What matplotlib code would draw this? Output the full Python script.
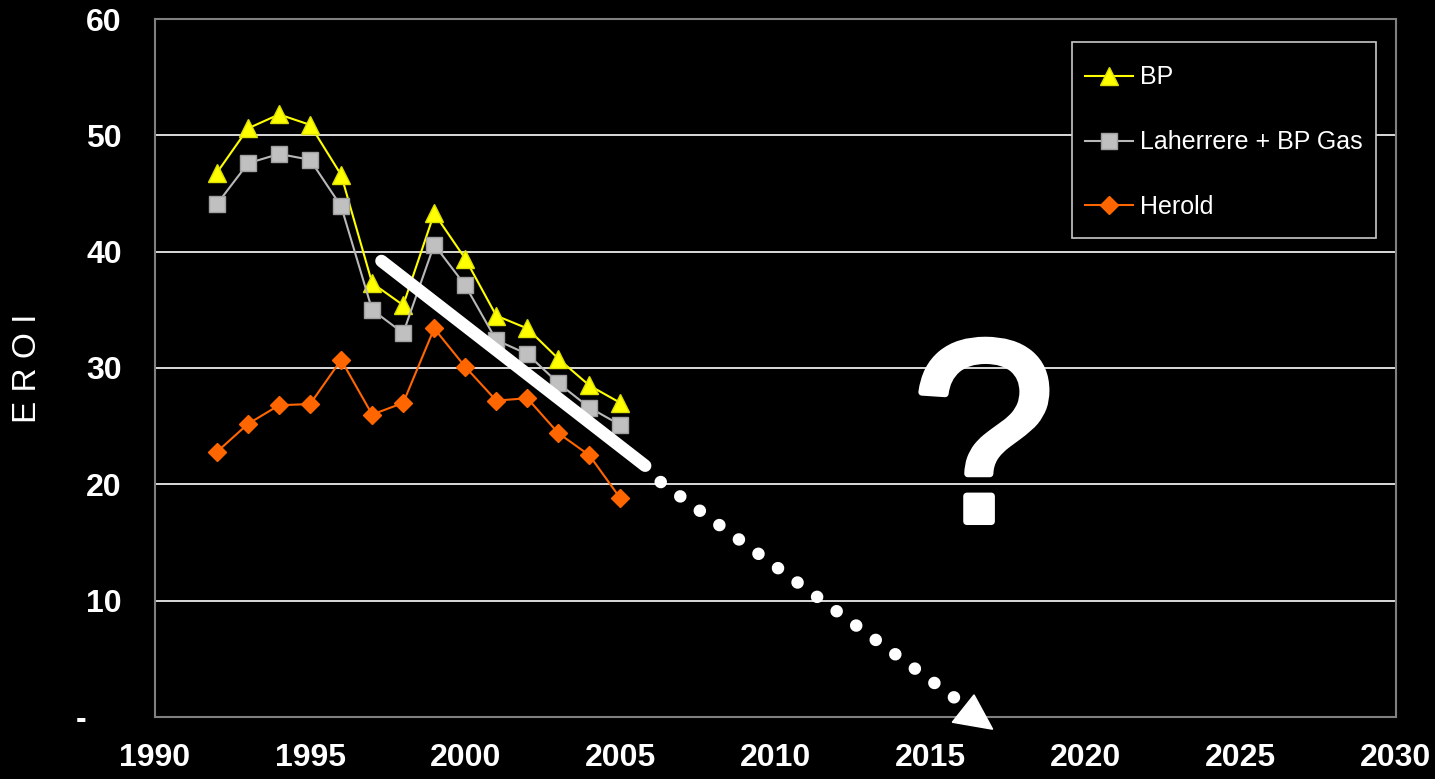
import matplotlib
matplotlib.use("Agg")
import matplotlib.pyplot as plt
from matplotlib.patches import Polygon, Rectangle
import matplotlib.patheffects as pe

plt.rcParams['font.family'] = ['Liberation Sans', 'DejaVu Sans']

# EROI series, one value per year
years = [1992, 1993, 1994, 1995, 1996, 1997, 1998, 1999, 2000, 2001, 2002, 2003, 2004, 2005]
bp = [46.8, 50.6, 51.8, 50.9, 46.6, 37.3, 35.4, 43.3, 39.4, 34.5, 33.4, 30.8, 28.5, 27.0]
laherrere = [44.1, 47.6, 48.4, 47.9, 43.9, 35.0, 33.0, 40.6, 37.1, 32.4, 31.2, 28.7, 26.6, 25.1]
herold = [22.8, 25.2, 26.8, 26.9, 30.7, 26.0, 27.0, 33.4, 30.1, 27.2, 27.4, 24.4, 22.5, 18.8]

# trend line and its dotted extrapolation
trend_x = [1997.3, 2005.8]
trend_y = [39.2, 21.6]
extrap_x = [2006.3, 2015.85]
extrap_y = [20.2, 1.5]
head = [(2015.7, -0.45), (2016.4, 1.9), (2017.0, -1.05)]

x_ticks = [1990, 1995, 2000, 2005, 2010, 2015, 2020, 2025, 2030]
y_ticks = [0, 10, 20, 30, 40, 50, 60]
y_labels = ['-    ', '10', '20', '30', '40', '50', '60']

W, H = 1435, 779
fig = plt.figure(figsize=(W / 100, H / 100), dpi=100, facecolor='black')
ax = fig.add_axes([0.108, 0.0796, 0.8648, 0.896])
ax.set_facecolor('black')

ax.grid(axis='y', color='white', lw=1.2)
ax.set_axisbelow(True)

ax.plot(years, bp, color='#ffff00', lw=1.5, marker='^', ms=12.5,
        mfc='#ffff00', mec='#e0e000', label='BP')
ax.plot(years, laherrere, color='#b8b8b8', lw=1.5, marker='s', ms=11.5,
        mfc='#c0c0c0', mec='#a0a0a0', label='Laherrere + BP Gas')
ax.plot(years, herold, color='#ff6600', lw=1.5, marker='D', ms=9,
        mfc='#ff6600', mec='#ff6600', label='Herold')

ax.plot(trend_x, trend_y, color='white', lw=9, solid_capstyle='round')
ax.plot(extrap_x, extrap_y, color='white', lw=9, ls=(0, (0.01, 1.93)),
        dash_capstyle='round')
ax.add_patch(Polygon(head, closed=True, color='white', clip_on=False, zorder=5))

ax.text(2016.7, 16.8, '?', color='white', fontsize=187, ha='center', va='baseline',
        path_effects=[pe.withStroke(linewidth=5, foreground='white', capstyle='round',
                                    joinstyle='round')])

ax.set_xlim(1990, 2030)
ax.set_ylim(0, 60)
ax.set_xticks(x_ticks)
ax.set_yticks(y_ticks)
ax.set_yticklabels(y_labels)
ax.tick_params(length=0, colors='white', labelsize=23)
ax.tick_params(axis='y', pad=24)
ax.tick_params(axis='x', pad=19)
for lbl in ax.get_xticklabels() + ax.get_yticklabels():
    lbl.set_fontweight('bold')

for s in ax.spines.values():
    s.set_color('#808080')
    s.set_linewidth(1.5)

ax.set_ylabel('E R O I', color='white', fontsize=24, va='center')
ax.yaxis.set_label_coords((28 - 155) / 1241, 0.5)

# legend entries without their own frame; the box is drawn separately
leg = ax.legend(loc='upper left', bbox_to_anchor=(1085 / W, 1 - 65.5 / H),
                bbox_transform=fig.transFigure, borderaxespad=0, borderpad=0,
                fontsize=18, frameon=False, labelcolor='white', labelspacing=1.63,
                handlelength=1.9, handletextpad=0.3)
leg.set_zorder(7)
ax.add_patch(Rectangle((1072 / W, 1 - 238 / H), 304 / W, 196 / H,
                       transform=fig.transFigure, facecolor='black',
                       edgecolor='#c8c8c8', lw=1.2, zorder=6, clip_on=False))

fig.savefig('out.png', dpi=100, facecolor='black')
